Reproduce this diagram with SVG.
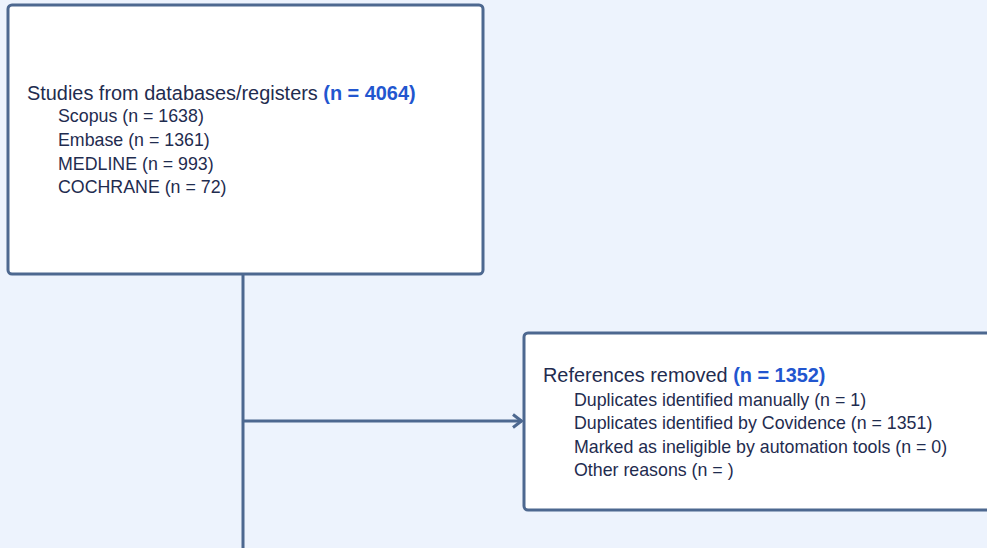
<svg xmlns="http://www.w3.org/2000/svg" width="987" height="548" viewBox="0 0 987 548">
<defs>
<style>
.box{fill:#ffffff;stroke:#4d6890;stroke-width:3}
.conn{stroke:#4d6890;stroke-width:3;fill:none}
.t{font-family:"Liberation Sans",Arial,sans-serif;fill:#1f2c4f}
.h{font-size:19.9px}
.s{font-size:17.8px}
.b{font-weight:bold;fill:#2256cf}
</style>
<marker id="arr" viewBox="0 0 12 16" refX="11" refY="8" markerWidth="12" markerHeight="16" markerUnits="userSpaceOnUse" orient="auto">
<path d="M2,1.5 L10.5,8 L2,14.5" fill="none" stroke="#4d6890" stroke-width="3"/>
</marker>
</defs>
<rect width="987" height="548" fill="#edf3fd"/>
<g id="connectors">
<line class="conn" x1="243" y1="274" x2="243" y2="548"/>
<line class="conn" x1="243" y1="421" x2="522" y2="421" marker-end="url(#arr)"/>
</g>
<g id="node-studies">
<rect class="box" x="8" y="5" width="475" height="269" rx="4"/>
<text class="t h" x="27" y="100">Studies from databases/registers <tspan class="b">(n = 4064)</tspan></text>
<text class="t s" x="58" y="122">Scopus (n = 1638)</text>
<text class="t s" x="58" y="146">Embase (n = 1361)</text>
<text class="t s" x="58" y="170">MEDLINE (n = 993)</text>
<text class="t s" x="58" y="193">COCHRANE (n = 72)</text>
</g>
<g id="node-removed">
<rect class="box" x="524" y="333" width="480" height="177" rx="4"/>
<text class="t h" x="543" y="382">References removed <tspan class="b">(n = 1352)</tspan></text>
<text class="t s" x="574" y="406">Duplicates identified manually (n = 1)</text>
<text class="t s" x="574" y="429">Duplicates identified by Covidence (n = 1351)</text>
<text class="t s" x="574" y="453">Marked as ineligible by automation tools (n = 0)</text>
<text class="t s" x="574" y="476">Other reasons (n = )</text>
</g>
</svg>
